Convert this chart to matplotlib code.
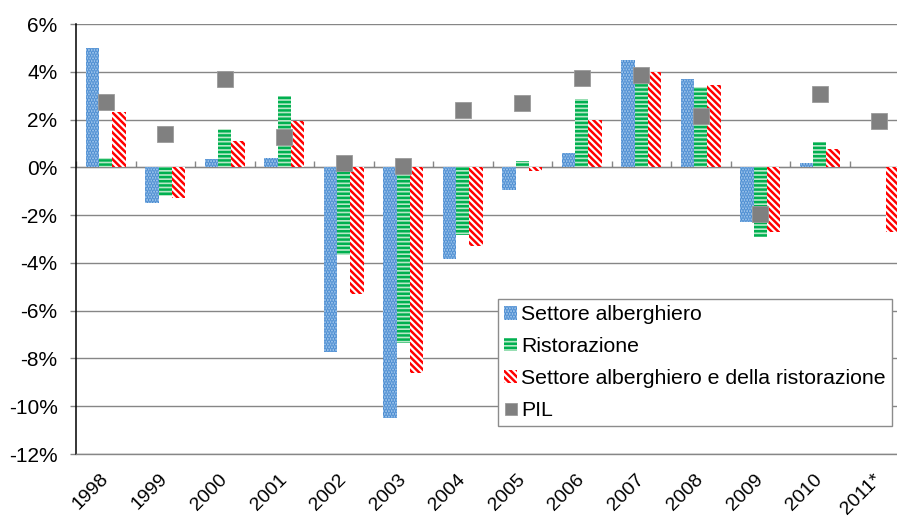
import numpy as np
import matplotlib
matplotlib.use("Agg")
import matplotlib.pyplot as plt
import matplotlib.transforms as mtransforms

years = ["1998", "1999", "2000", "2001", "2002", "2003", "2004", "2005",
         "2006", "2007", "2008", "2009", "2010", "2011*"]
alberghiero = [5.0, -1.5, 0.35, 0.4, -7.75, -10.5, -3.85, -0.95,
               0.6, 4.5, 3.7, -2.3, 0.2, np.nan]
ristorazione = [0.4, -1.2, 1.6, 3.0, -3.65, -7.35, -2.85, 0.25,
                2.85, 3.5, 3.35, -2.9, 1.07, np.nan]
totale = [2.3, -1.3, 1.1, 1.95, -5.3, -8.6, -3.3, -0.15,
          2.0, 4.0, 3.45, -2.7, 0.78, -2.7]
pil = [2.75, 1.4, 3.68, 1.25, 0.2, 0.05, 2.4, 2.7,
       3.75, 3.85, 2.15, -1.95, 3.05, 1.93]
yticks = [6, 4, 2, 0, -2, -4, -6, -8, -10, -12]
labels = ["Settore alberghiero", "Ristorazione",
          "Settore alberghiero e della ristorazione", "PIL"]

plt.rcParams['font.family'] = ['Liberation Sans', 'DejaVu Sans']
plt.rcParams['font.size'] = 15
plt.rcParams['hatch.linewidth'] = 1.8

W, H = 897, 516
fig = plt.figure(figsize=(W / 100, H / 100), dpi=100)
ax = fig.add_axes([76 / W, 1 - 454 / H, (909 - 76) / W, (454 - 24) / H])

x = np.arange(len(years))
w = 0.224
b1 = ax.bar(x - w, alberghiero, w, facecolor='#a9cdf0', edgecolor='#4a8bd0',
            hatch='......', linewidth=0, label=labels[0], zorder=2)
b2 = ax.bar(x, ristorazione, w, facecolor='#b8e8c8', edgecolor='#00b050',
            hatch='----', linewidth=0, label=labels[1], zorder=2)
b3 = ax.bar(x + w, totale, w, facecolor='white', edgecolor='#ff0000',
            hatch='\\' * 5, linewidth=0, label=labels[2], zorder=2)
p, = ax.plot(x, pil, 's', color='#808080', markersize=11,
             markeredgecolor='#9a9a9a', markeredgewidth=0.6,
             linestyle='none', label=labels[3], zorder=4)

ax.set_xlim(-0.5, len(years) - 0.5)
ax.set_ylim(-12, 6)
ax.set_yticks(yticks)
ax.set_yticklabels([f"{v}%" for v in yticks])
ax.yaxis.grid(True, color='#868686', linewidth=1.0)
ax.set_axisbelow(True)
ax.tick_params(axis='y', length=4.3, width=1, color='#868686', pad=9)

for s in ['top', 'right']:
    ax.spines[s].set_visible(False)
ax.spines['bottom'].set_color('#868686')
ax.spines['bottom'].set_linewidth(1.0)
ax.spines['left'].set_color('black')
ax.spines['left'].set_linewidth(1.1)

ax.set_xticks(x)
ax.set_xticklabels(years, rotation=45, ha='right', rotation_mode='anchor',
                   fontsize=14)
ax.tick_params(axis='x', length=0, pad=12)
offset = mtransforms.ScaledTranslation(-6 / 100, 0, fig.dpi_scale_trans)
for lab in ax.get_xticklabels():
    lab.set_transform(lab.get_transform() + offset)

sec = ax.secondary_xaxis(12 / 18)
sec.set_xticks(np.arange(-0.5, len(years), 1.0))
sec.set_xticklabels([])
sec.tick_params(axis='x', direction='out', length=4.3, width=1, color='#868686')
sec.spines['bottom'].set_color('black')
sec.spines['bottom'].set_linewidth(1.1)

leg = ax.legend(handles=[b1, b2, b3, p], labels=labels, loc='upper left',
                bbox_to_anchor=(498 / W, 1 - 299 / H), bbox_transform=fig.transFigure,
                borderaxespad=0, fancybox=False, framealpha=1, edgecolor='#8c8c8c',
                handlelength=0.6, handleheight=0.6, handletextpad=0.2,
                labelspacing=0.6, borderpad=0.3, markerscale=0.75,
                fontsize=15.3)
leg.get_frame().set_linewidth(1.0)
leg.set_zorder(10)

fig.savefig("out.png", dpi=100)
